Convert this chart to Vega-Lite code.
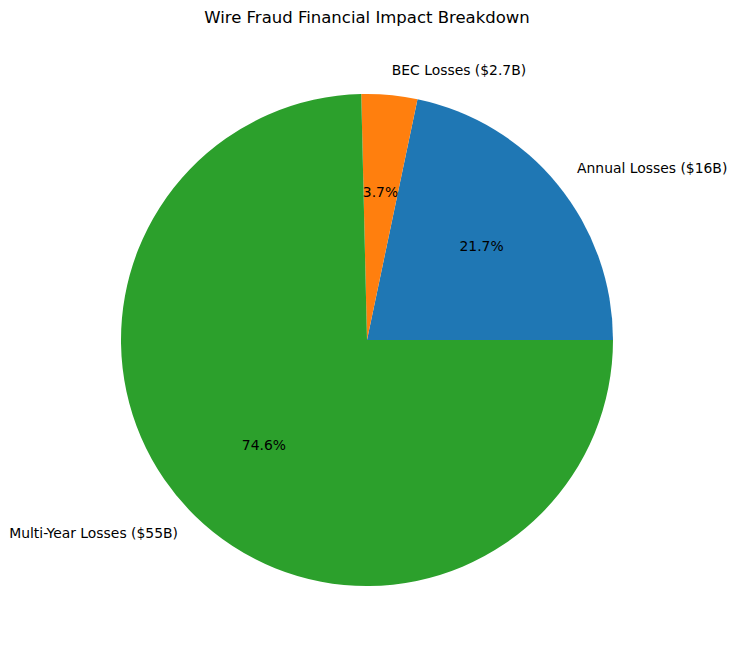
{
  "$schema": "https://vega.github.io/schema/vega-lite/v6.json",
  "width": 734,
  "height": 600,
  "autosize": "none",
  "padding": {"left": 0, "top": 40, "right": 3, "bottom": 18},
  "background": "white",
  "title": {
    "text": "Wire Fraud Financial Impact Breakdown",
    "font": "DejaVu Sans",
    "fontSize": 16.5,
    "fontWeight": "normal",
    "color": "black",
    "offset": 14
  },
  "data": {
    "values": [
      {"label": "Annual Losses ($16B)", "value": 16, "pct": "21.7%"},
      {"label": "BEC Losses ($2.7B)", "value": 2.7, "pct": "3.7%"},
      {"label": "Multi-Year Losses ($55B)", "value": 55, "pct": "74.6%"}
    ]
  },
  "encoding": {
    "theta": {
      "field": "value",
      "type": "quantitative",
      "stack": true,
      "scale": {"range": [1.5708, -4.7124]}
    },
    "order": {"field": "label"}
  },
  "layer": [
    {
      "mark": {"type": "arc", "outerRadius": 246},
      "encoding": {
        "color": {
          "field": "label",
          "type": "nominal",
          "scale": {
            "domain": ["Annual Losses ($16B)", "BEC Losses ($2.7B)", "Multi-Year Losses ($55B)"],
            "range": ["#1f77b4", "#ff7f0e", "#2ca02c"]
          },
          "legend": null
        }
      }
    },
    {
      "mark": {
        "type": "text",
        "radius": 147.6,
        "font": "DejaVu Sans",
        "fontSize": 13.9,
        "color": "black",
        "align": "center",
        "baseline": "middle"
      },
      "encoding": {"text": {"field": "pct"}}
    },
    {
      "mark": {
        "type": "text",
        "radius": 270.6,
        "font": "DejaVu Sans",
        "fontSize": 13.9,
        "color": "black",
        "baseline": "middle",
        "align": {"expr": "datum.label == 'Multi-Year Losses ($55B)' ? 'right' : 'left'"}
      },
      "encoding": {"text": {"field": "label"}}
    }
  ],
  "config": {"view": {"stroke": null}}
}
